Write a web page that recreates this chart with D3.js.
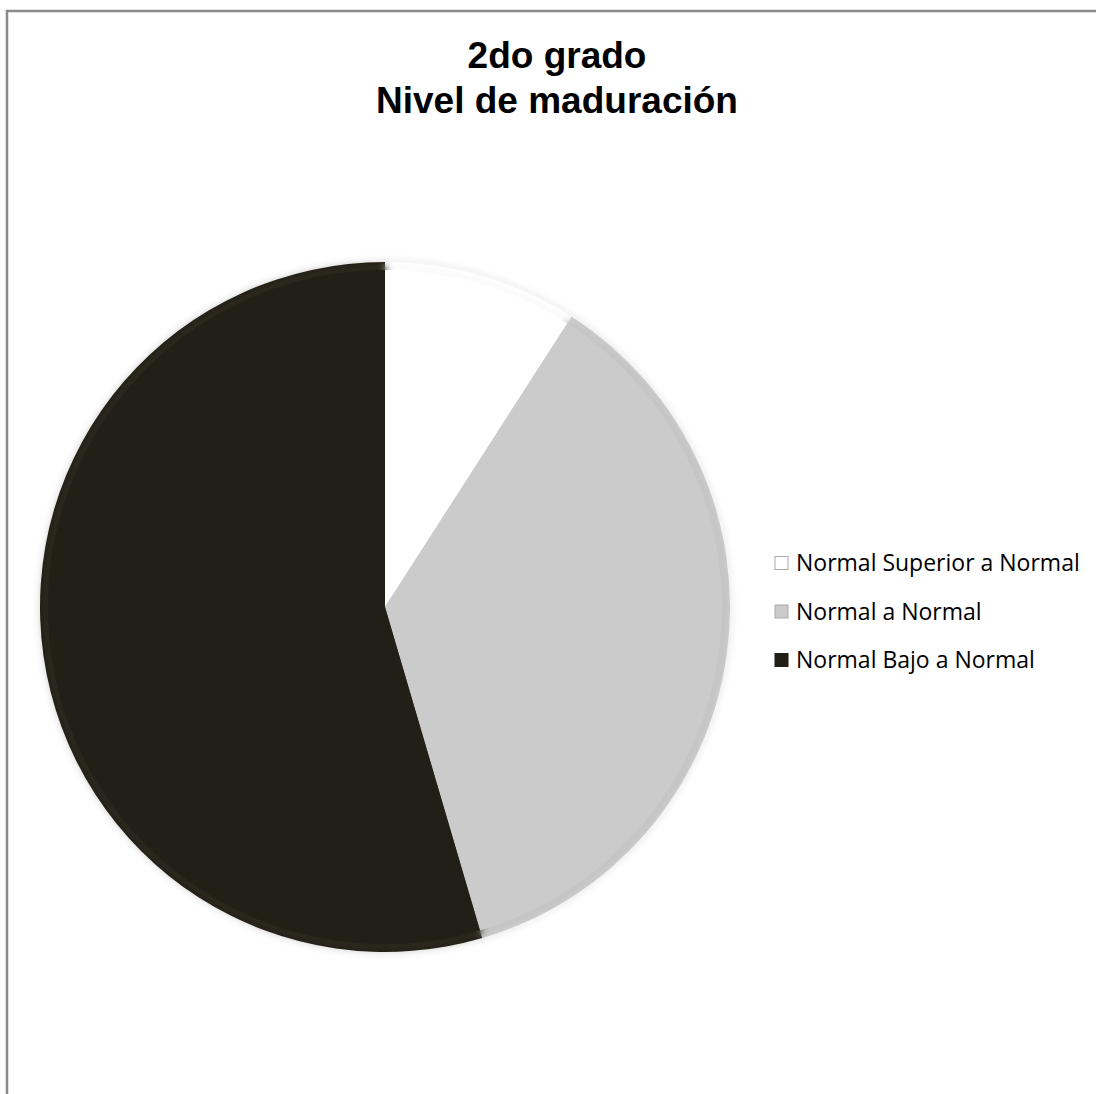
<!DOCTYPE html>
<html>
<head>
<meta charset="utf-8">
<script src="https://cdn.jsdelivr.net/npm/d3@7"></script>
<style>
  body { margin: 0; background: #fff; }
  svg { display: block; }
</style>
</head>
<body>
<svg id="chart" width="1096" height="1094"></svg>
<script>
// chart data
var categories = ["Normal Superior a Normal", "Normal a Normal", "Normal Bajo a Normal"];
var values = [3, 12, 18];
var colors = ["#ffffff", "#cbcbcb", "#221f17"];
var titleLines = ["2do grado", "Nivel de maduración"];

(function(){
    var svg = d3.select("#chart");
    var W = 1096, H = 1094;

    // outer frame of the chart area
    svg.append("rect")
        .attr("x", 7).attr("y", 11)
        .attr("width", W + 10).attr("height", H + 10)
        .style("fill", "#fff")
        .style("stroke", "#8a8a8a")
        .style("stroke-width", 2.5);

    var defs = svg.append("defs");
    var blur = defs.append("filter").attr("id", "soft")
        .attr("x", "-10%").attr("y", "-10%").attr("width", "120%").attr("height", "120%");
    blur.append("feGaussianBlur").attr("stdDeviation", 3);

    // title
    var title = svg.append("g").attr("class", "title");
    titleLines.forEach(function(t, i){
        title.append("text")
            .attr("x", 557).attr("y", 68 + i * 45)
            .attr("text-anchor", "middle")
            .style("font-family", "'Liberation Sans', Arial, sans-serif")
            .style("font-weight", "bold")
            .style("font-size", "37px")
            .style("fill", "#000")
            .text(t);
    });

    var cx = 385, cy = 607, R = 345;
    var pie = d3.pie().sort(null).value(function(d){ return d; });
    var arcs = pie(values);
    var arc = d3.arc().innerRadius(0).outerRadius(R);
    var inner = d3.arc().innerRadius(0).outerRadius(R - 6);

    var g = svg.append("g").attr("transform", "translate(" + cx + "," + cy + ")");

    // faint shadow round the rim
    g.append("circle").attr("r", R + 1)
        .style("fill", "none").style("stroke", "#d9d9d9").style("stroke-width", 2)
        .attr("filter", "url(#soft)");

    g.selectAll("path.slice").data(arcs).enter().append("path")
        .attr("class", "slice")
        .attr("d", arc)
        .style("fill", function(d, i){ return colors[i]; });

    // bevel: darker rim then lighter inner body
    var bevel = ["#f2f2f2", "#b9b9b9", "#3a3628"];
    g.selectAll("path.bevel").data(arcs).enter().append("path")
        .attr("class", "bevel")
        .attr("d", inner)
        .style("fill", function(d, i){ return colors[i]; })
        .style("stroke", function(d, i){ return bevel[i]; })
        .style("stroke-width", 4)
        .style("stroke-opacity", 0.7)
        .attr("filter", "url(#soft)");

    g.selectAll("path.face").data(arcs).enter().append("path")
        .attr("class", "face")
        .attr("d", d3.arc().innerRadius(0).outerRadius(R - 8))
        .style("fill", function(d, i){ return colors[i]; });

    // legend
    var legend = svg.append("g").attr("class", "legend");
    var items = legend.selectAll("g").data(categories).enter().append("g")
        .attr("transform", function(d, i){ return "translate(775," + (563 + i * 48.5) + ")"; });
    items.append("rect")
        .attr("x", 0).attr("y", -6.5).attr("width", 13).attr("height", 13)
        .style("fill", function(d, i){ return colors[i]; })
        .style("stroke", function(d, i){ return i === 2 ? "#221f17" : "#aaaaaa"; })
        .style("stroke-width", 1);
    items.append("text")
        .attr("x", 21).attr("y", 0).attr("dy", "0.35em")
        .style("font-family", "'Open Sans', 'Noto Sans', sans-serif")
        .style("font-size", "23px")
        .style("fill", "#000")
        .text(function(d){ return d; });
})();
</script>
</body>
</html>
